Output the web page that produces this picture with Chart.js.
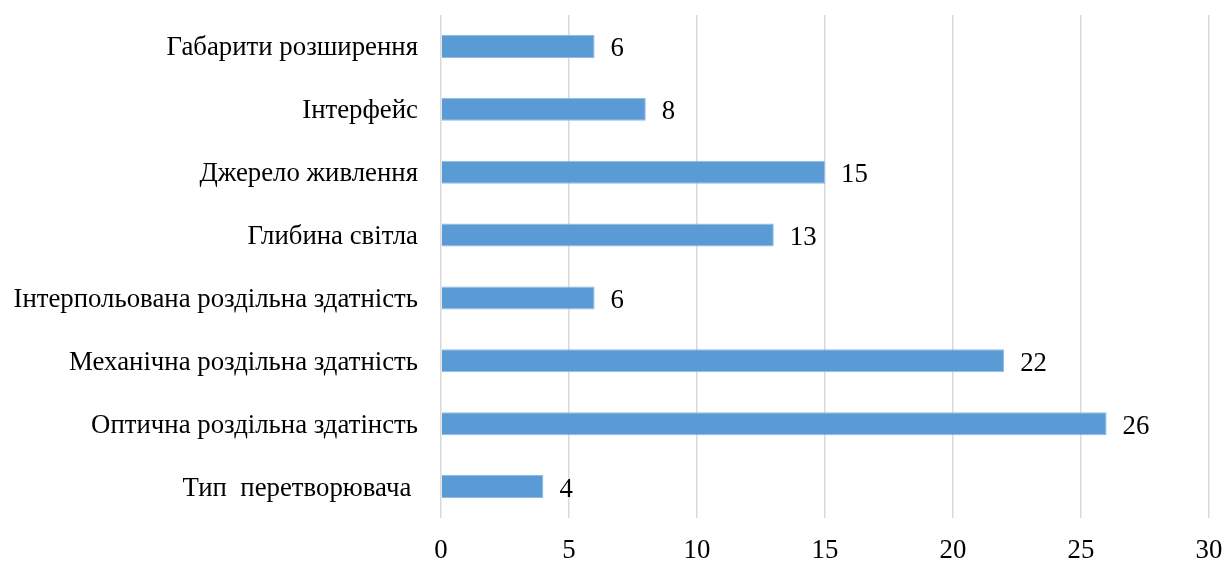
<!DOCTYPE html>
<html lang="uk">
<head>
<meta charset="utf-8">
<script src="https://cdn.jsdelivr.net/npm/chart.js@4/dist/chart.umd.min.js"></script>
<style>
  html, body { margin: 0; padding: 0; background: #fff; }
  #wrap { width: 1225px; height: 561px; position: relative; }
</style>
</head>
<body>
<div id="wrap"><canvas id="grafico"></canvas></div>
<script>
// categorias (de cima para baixo) e valores
const categorias = [
  'Габарити розширення',
  'Інтерфейс',
  'Джерело живлення',
  'Глибина світла',
  'Інтерпольована роздільна здатність',
  'Механічна роздільна здатність',
  'Оптична роздільна здатінсть',
  'Тип  перетворювача '
];
const valores = [6, 8, 15, 13, 6, 22, 26, 4];
const ticksX = [0, 5, 10, 15, 20, 25, 30];

const fonte = '"Liberation Serif", "Times New Roman", serif';
const tamanhoFonte = 26.8;

// escreve o valor à direita de cada barra
const rotulosValores = {
  id: 'rotulosValores',
  afterDatasetsDraw(chart) {
    const ctx = chart.ctx;
    const meta = chart.getDatasetMeta(0);
    ctx.save();
    ctx.font = tamanhoFonte + 'px ' + fonte;
    ctx.fillStyle = '#000';
    ctx.textAlign = 'left';
    ctx.textBaseline = 'middle';
    meta.data.forEach((barra, i) => {
      ctx.fillText(String(valores[i]), barra.x + 16, barra.y + 3);
    });
    ctx.restore();
  }
};

const contexto = document.getElementById('grafico').getContext('2d');
new Chart(contexto, {
  type: 'bar',
  data: {
    labels: categorias,
    datasets: [{
      data: valores,
      backgroundColor: '#5b9bd5',
      borderColor: '#8fbbe6',
      borderWidth: 1,
      barPercentage: 0.365,
      categoryPercentage: 1
    }]
  },
  options: {
    indexAxis: 'y',
    responsive: true,
    maintainAspectRatio: false,
    animation: false,
    layout: { padding: { top: 15, right: 16, left: 0, bottom: 0 } },
    plugins: {
      legend: { display: false },
      tooltip: { enabled: false }
    },
    scales: {
      x: {
        min: 0,
        max: 30,
        afterBuildTicks: escala => {
          escala.ticks = ticksX.map(v => ({ value: v }));
        },
        afterFit: escala => {
          escala.height = 43;
          escala.paddingLeft = 0;
          escala.paddingRight = 0;
        },
        grid: { color: '#d9d9d9', lineWidth: 1.5, drawTicks: false },
        border: { display: false },
        ticks: {
          color: '#000',
          font: { family: fonte, size: tamanhoFonte },
          padding: 17
        }
      },
      y: {
        afterFit: escala => {
          escala.width = 441;
          escala.paddingTop = 0;
          escala.paddingBottom = 0;
        },
        grid: { display: false, drawTicks: false },
        border: { display: false },
        ticks: {
          color: '#000',
          font: { family: fonte, size: tamanhoFonte },
          padding: 23,
          labelOffset: 2
        }
      }
    }
  },
  plugins: [rotulosValores]
});
</script>
</body>
</html>
